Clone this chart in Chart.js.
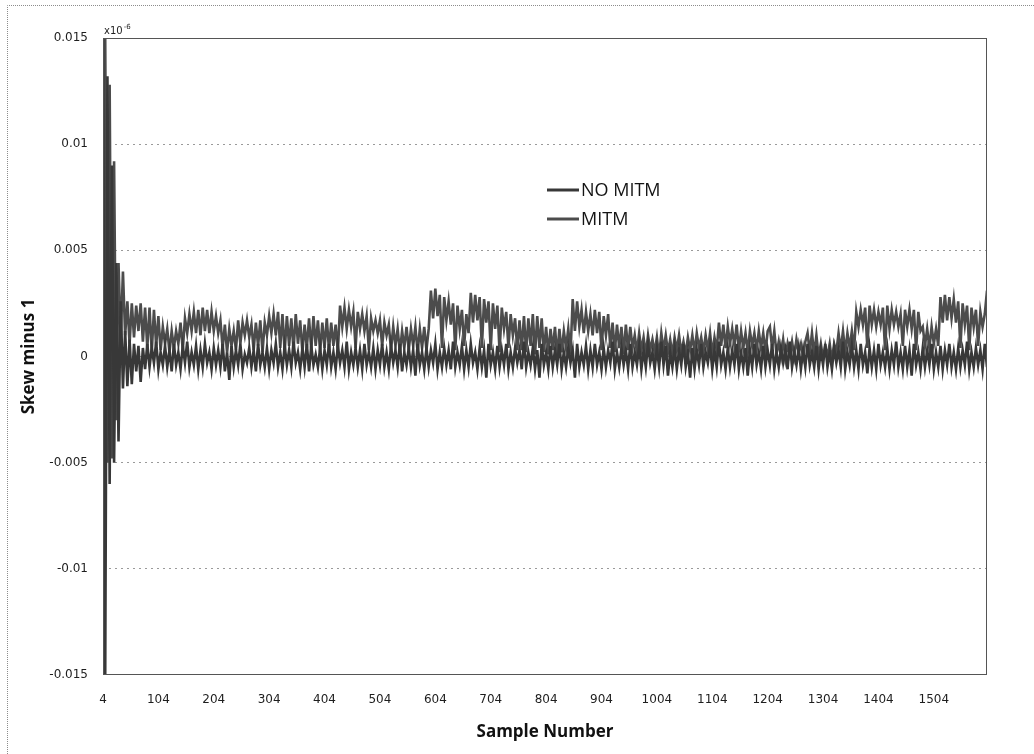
<!DOCTYPE html>
<html>
<head>
<meta charset="utf-8">
<title>Skew minus 1</title>
<script src="https://cdn.jsdelivr.net/npm/chart.js@4.4.1/dist/chart.umd.min.js"></script>
<style>
  html,body{margin:0;padding:0;background:#fff;overflow:hidden;}
  #wrap{width:1034px;height:754px;}
</style>
</head>
<body>
<div id="wrap"><canvas id="skewChart" width="1034" height="754"></canvas></div>
<script>
// skew minus 1, one reading every 4 samples starting at sample 4, in units of 1e-4
const firstSample=4;
const sampleStep=4;

const noMitm=[
  150,-150,132,-60,90,-50,44,-40,26,-15, 12,-14,8,-13,6,-7,5,-12,4,-6,
  6,-5,4,-3,7,-6,2,-4,5,-5, 3,-7,6,-4,2,-6,5,-3,7,-5,
  2,-4,5,-6,3,-5,6,-3,2,-6, 4,-4,3,-5,6,-7,2,-11,5,-5,
  3,-4,6,-6,1,-3,4,-5,3,-7, 6,-4,2,-5,4,-6,3,-3,6,-5,
  2,-6,5,-4,3,-5,7,-3,2,-6, 4,-5,6,-7,5,-4,1,-5,4,-6,
  3,-4,6,-5,2,-6,5,-3,3,-5, 7,-6,2,-4,4,-5,3,-6,6,-4,
  2,-5,4,-6,3,-4,6,-5,2,-6, 5,-3,3,-5,6,-7,2,-4,4,-5,
  3,-9,6,-4,2,-6,4,-5,3,-3, 6,-6,2,-5,4,-4,3,-6,7,-5,
  2,-4,5,-6,3,-5,6,-3,2,-6, 4,-5,3,-10,6,-4,2,-6,5,-5,
  3,-4,6,-6,2,-5,4,-3,3,-6, 7,-5,2,-4,4,-6,3,-10,6,-4,
  2,-6,5,-5,3,-4,6,-6,2,-5, 4,-3,3,-10,6,-5,2,-4,5,-6,
  3,-5,6,-4,2,-6,4,-5,3,-3, 7,-6,2,-5,4,-4,3,-6,6,-5,
  2,-4,5,-6,3,-5,6,-3,2,-6, 4,-5,7,-4,5,-9,2,-5,4,-6,
  3,-4,6,-5,2,-10,4,-6,3,-4, 6,-5,2,-3,5,-6,3,-5,7,-4,
  2,-6,4,-5,3,-4,6,-6,2,-5, 4,-9,3,-5,6,-4,2,-6,5,-5,
  3,-4,6,-6,2,-5,4,-3,3,-6, 7,-5,2,-4,4,-6,3,-5,6,-4,
  2,-5,5,-6,3,-4,6,-5,2,-6, 4,-3,3,-5,7,-6,2,-4,5,-5,
  3,-6,6,-4,2,-8,4,-5,3,-6, 6,-4,2,-5,4,-6,3,-4,7,-5,
  2,-6,5,-5,3,-9,6,-4,2,-6, 4,-5,3,-4,6,-6,2,-5,5,-6,
  3,-4,6,-5,2,-6,4,-5,3,-4, 7,-6,2,-5,4,-4,3,-6,6,-5
];

const mitm=[
  -150,150,-50,128,-48,92,-30,44,8,40, 10,26,6,25,9,24,12,25,7,23,
  4,23,2,22,5,19,3,14,6,13, 2,12,4,12,6,16,3,18,11,20,
  12,21,11,22,10,23,12,22,11,21, 12,19,11,17,4,15,2,13,5,12,
  3,17,6,16,10,17,9,15,3,16, 5,17,2,16,10,19,11,20,10,21,
  4,20,2,19,5,18,3,20,6,17, 2,15,4,18,3,19,5,17,2,16,
  4,18,3,16,5,15,2,24,
  14,23,13,22,14,21,4,21,13,20, 12,19,3,18,12,17,11,17,5,16,
  10,15,3,14,5,13,2,12,4,14, 3,13,5,14,2,13,4,14,3,13,
  31,18,32,19,29,4,28,17,26,15,25,3,24,13,22,5,20,11,
  30,16,29,17,28,4,27,16,26,3,25,13,24,2,23,13,21,4,20,10,18,3,
  17,3,19,2,18,5,20,1,19,4,18,2,
  14,1,13,3,14,0,13,2,12,4,13,1,
  27,12,26,14,22,11,21,12,20,10,22,11,21,3,19,10,20,4,
  16,2,15,4,14,1,15,3,14,
  4,10,2,11,3,9,1,10,3,8,2,9,0,11,3,10,2,8,1,9,3,10,2,7,1,9,
  3,10,2,11,4,9,2,10,3,11,1,9,3,
  16,5,15,4,14,6,13,5,15,
  3,12,4,11,2,12,5,11,3,12,4,11,2,12,14,4,12,
  1,7,0,8,-1,6,1,7,0,8,2,6,0,7,
  11,2,11,1,10,0,
  6,-1,5,0,6,-2,6,
  2,11,3,12,2,11,4,12,3,
  21,14,22,15,23,4,24,15,22,14,21,15,23,3,24,13,22,15,21,14,20,5,22,
  14,22,13,22,3,21,12,
  14,5,13,4,14,6,13,5,
  28,16,29,17,28,18,27,16,26,4,25,15,24,3,23,14,22,5,21,14,20,31
];

const seriesLabels=["NO MITM","MITM"];
const seriesColors=["#383838","#4c4c4c"];
const xTickSamples=[4,104,204,304,404,504,604,704,804,904,1004,1104,1204,1304,1404,1504];
const yTickValues=[-0.015,-0.01,-0.005,0,0.005,0.01,0.015];
const yTickLabels=["-0.015","-0.01","-0.005","0","0.005","0.01","0.015"];

function toPoints(values){
  return values.map((v,i)=>({x:firstSample+i*sampleStep,y:v/1e4}));
}

//------------------------------------------------------------------
// chart frame, outer border, exponent note and the in-plot legend
const chartDecor={
  id:"chartDecor",
  beforeDraw(chart){
    const ctx=chart.ctx;
    ctx.save();
    ctx.strokeStyle="#8c8c8c";
    ctx.lineWidth=1;
    ctx.setLineDash([1,1]);
    ctx.beginPath();
    ctx.moveTo(7.5,754);
    ctx.lineTo(7.5,5.5);
    ctx.lineTo(1034,5.5);
    ctx.stroke();
    ctx.restore();
  },
  afterDatasetsDraw(chart){
    const {ctx,chartArea:{left,top,right,bottom}}=chart;
    ctx.save();
    ctx.strokeStyle="#555555";
    ctx.lineWidth=1;
    ctx.strokeRect(left+0.5,top+0.5,right-left-1,bottom-top-1);
    ctx.restore();
  },
  afterDraw(chart){
    const ctx=chart.ctx;
    const left=chart.chartArea.left;
    ctx.save();
    ctx.fillStyle="#1e1e1e";
    ctx.textBaseline="alphabetic";
    ctx.font="10px 'DejaVu Sans'";
    ctx.fillText("x10",left+1,34);
    const w=ctx.measureText("x10").width;
    ctx.font="7px 'DejaVu Sans'";
    ctx.fillText("-6",left+2+w,29);

    // legend entries stacked inside the plot
    const legendX=547, legendY=[190,219];
    chart.data.datasets.forEach((ds,i)=>{
      ctx.strokeStyle=ds.borderColor;
      ctx.lineWidth=3;
      ctx.beginPath();
      ctx.moveTo(legendX,legendY[i]);
      ctx.lineTo(legendX+32,legendY[i]);
      ctx.stroke();
      ctx.fillStyle="#141414";
      ctx.font="18px 'Open Sans'";
      ctx.textBaseline="middle";
      ctx.fillText(ds.label,legendX+34,legendY[i]+1);
    });
    ctx.restore();
  }
};

const tickFont={family:"'DejaVu Sans'",size:12};
const titleFont={family:"'Open Sans'",size:17,weight:"bold"};

new Chart(document.getElementById("skewChart"),{
  type:"line",
  data:{
    datasets:[
      {label:seriesLabels[0],data:toPoints(noMitm),borderColor:seriesColors[0],borderWidth:2.6,pointRadius:0,tension:0},
      {label:seriesLabels[1],data:toPoints(mitm),borderColor:seriesColors[1],borderWidth:2.6,pointRadius:0,tension:0}
    ]
  },
  options:{
    responsive:false,
    animation:false,
    devicePixelRatio:1,
    layout:{padding:{top:38,right:47,bottom:0,left:0}},
    plugins:{legend:{display:false},tooltip:{enabled:false}},
    scales:{
      x:{
        type:"linear",
        min:4,
        max:1600,
        afterBuildTicks:(scale)=>{scale.ticks=xTickSamples.map(v=>({value:v}));},
        afterFit:(scale)=>{scale.height=79;},
        grid:{display:false,drawTicks:false},
        border:{display:false},
        ticks:{padding:18,color:"#1e1e1e",font:tickFont,autoSkip:false,maxRotation:0,callback:(v)=>String(v)},
        title:{display:true,text:"Sample Number",color:"#111",font:titleFont,padding:{top:0,bottom:12}}
      },
      y:{
        min:-0.015,
        max:0.015,
        afterBuildTicks:(scale)=>{scale.ticks=yTickValues.map(v=>({value:v}));},
        afterFit:(scale)=>{scale.width=103;},
        grid:{
          drawTicks:false,
          color:(c)=>(c.tick && Math.abs(c.tick.value)>0.0149)?"rgba(0,0,0,0)":"#9a9a9a"
        },
        border:{display:false,dash:[2,4]},
        ticks:{padding:15,color:"#1e1e1e",font:tickFont,callback:(v,i)=>yTickLabels[i]},
        title:{display:true,text:"Skew minus 1",color:"#111",font:titleFont,padding:{top:19,bottom:0}}
      }
    }
  },
  plugins:[chartDecor]
});
</script>
</body>
</html>
